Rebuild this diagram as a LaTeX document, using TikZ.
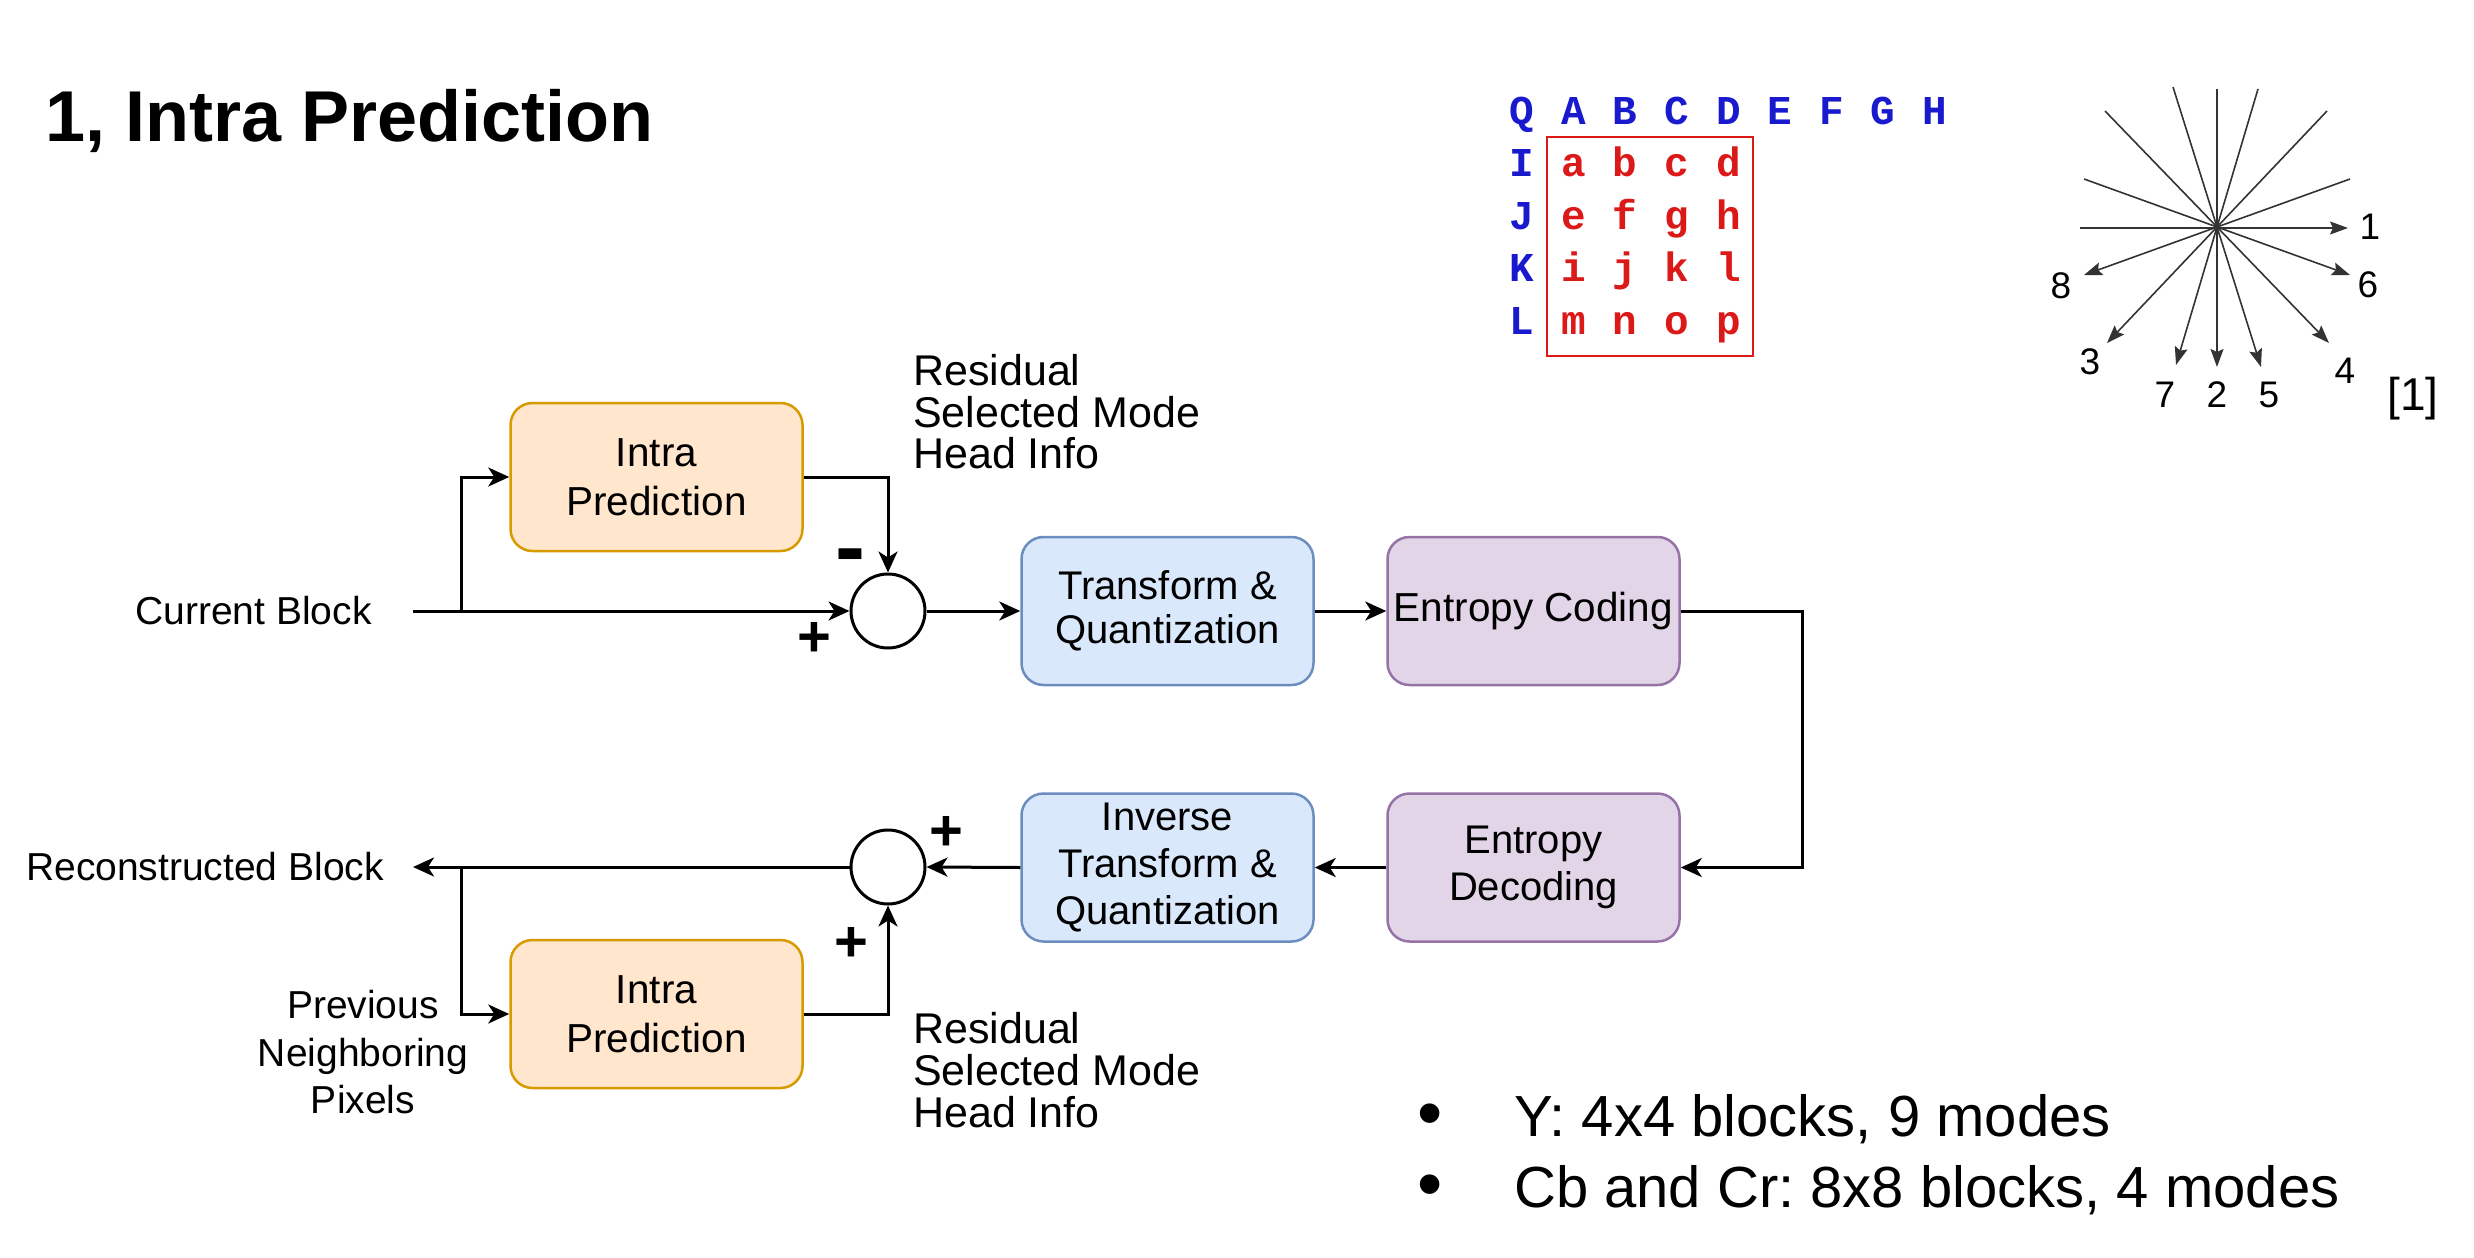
\documentclass[tikz,border=0pt]{standalone}
\usepackage{fontspec}
\setmainfont{Liberation Sans}
\newfontfamily\gridfont{Liberation Mono}
\usetikzlibrary{arrows.meta}
\definecolor{orfill}{HTML}{FFE6CC}\definecolor{ordraw}{HTML}{D79B00}
\definecolor{blfill}{HTML}{DAE8FC}\definecolor{bldraw}{HTML}{6C8EBF}
\definecolor{pufill}{HTML}{E1D5E7}\definecolor{pudraw}{HTML}{9673A6}
\definecolor{gblue}{RGB}{25,25,205}\definecolor{gred}{RGB}{220,25,25}
\newcommand\fsz[2]{\fontsize{#1}{#2}\selectfont}
\frenchspacing
\begin{document}
\begin{tikzpicture}[x=1pt,y=-1pt,
  box/.style={rounded corners=22pt, line width=2.5pt, minimum width=292pt, minimum height=148pt, inner sep=0pt, align=center},
  obox/.style={box, fill=orfill, draw=ordraw, font=\fsz{40.5}{49}},
  bbox/.style={box, fill=blfill, draw=bldraw},
  pbox/.style={box, fill=pufill, draw=pudraw},
  sumc/.style={circle, draw, line width=3pt, fill=white, minimum size=74pt, inner sep=0pt},
  flow/.style={line width=3pt, -{Stealth[length=21pt,width=19pt,inset=6pt]}},
  lbl/.style={inner sep=0pt, anchor=base, font=\fsz{39}{47}},
  rlbl/.style={inner sep=0pt, anchor=base west, font=\fsz{43}{43}},
  sign/.style={inner sep=0pt, font=\fsz{58}{58}\bfseries},
  gl/.style={inner sep=0pt, anchor=base, font=\gridfont\bfseries\fsz{41}{41}},
  sarr/.style={line width=1.6pt, draw=black!80, -{Stealth[length=18pt,width=13pt,inset=3pt]}},
  snum/.style={inner sep=0pt, font=\fsz{37}{37}},
  blt/.style={inner sep=0pt, anchor=base west, font=\fsz{58}{58}}
]
\useasboundingbox (0,0) rectangle (2474,1258);

% title
\node[inner sep=0pt, anchor=base west, font=\fsz{72}{72}\bfseries] (title) at (45,141) {1, Intra Prediction};

% boxes
\node[obox] (ip1) at (656.5,477) {Intra\\Prediction};
\node[obox] (ip2) at (656.5,1014) {Intra\\Prediction};
\node[bbox, font=\fsz{40}{44.5}] (tq) at (1167.5,611) {Transform \&\\Quantization};
\node[pbox, font=\fsz{40.5}{45}] (ec) at (1533.5,611) {Entropy Coding};
\node[bbox, font=\fsz{40}{47}] (itq) at (1167.5,867.5) {Inverse\\Transform \&\\Quantization};
\node[pbox, font=\fsz{40}{47}] (ed) at (1533.5,867.5) {Entropy\\Decoding};
\node[sumc] (s1) at (888,611) {};
\node[sumc] (s2) at (888,867) {};

% free labels
\node[lbl] (cb) at (253.5,624) {Current Block};
\node[lbl] (rb) at (205,880) {Reconstructed Block};
\node[lbl] (pn1) at (363,1018) {Previous};
\node[lbl] (pn2) at (363,1066) {Neighboring};
\node[lbl] (pn3) at (363,1113) {Pixels};
\node[rlbl] (r1) at (913,385) {Residual};
\node[rlbl] (r2) at (913,427) {Selected Mode};
\node[rlbl] (r3) at (913,468) {Head Info};
\node[rlbl] (r4) at (913,1043) {Residual};
\node[rlbl] (r5) at (913,1085) {Selected Mode};
\node[rlbl] (r6) at (913,1127) {Head Info};

% signs
\node[inner sep=0pt, anchor=base, font=\fsz{90}{90}\bfseries] (minus) at (850,577) {-};
\node[sign] (p1) at (814,639) {+};
\node[sign] (p2) at (946,833) {+};
\node[sign] (p3) at (851,944) {+};

% connectors
\coordinate (in1) at (413,611);
\coordinate (j1) at (461,611);
\coordinate (out2) at (413,867);
\coordinate (j2) at (461,867);
\coordinate (rt) at (1802,611);
\draw[flow] (in1) -- (s1.west);
\draw[flow] (j1) |- (ip1.west);
\draw[flow] (ip1.east) -| (s1.north);
\draw[flow] (s1.east) -- (tq.west);
\draw[flow] (tq.east) -- (ec.west);
\draw[flow] (ec.east) -- (rt) |- (ed.east);
\draw[flow] (ed.west) -- (itq.east);
\draw[flow] (itq.west) -- (s2.east);
\draw[flow] (s2.west) -- (out2);
\draw[flow] (j2) |- (ip2.west);
\draw[flow] (ip2.east) -| (s2.south);

% grid of pixels
\draw[gred, line width=2pt] (1547,137) rectangle (1753,356);
\foreach \l [count=\ci from 0] in {Q,A,B,C,D,E,F,G,H}
  \node[gl, text=gblue] (top\ci) at ({1522+51.6*\ci},124) {\l};
\foreach \l [count=\rj] in {I,J,K,L}
  \node[gl, text=gblue] (side\rj) at (1522,{124+52.5*\rj}) {\l};
\foreach \rw [count=\rj] in {{a,b,c,d},{e,f,g,h},{i,j,k,l},{m,n,o,p}}
  \foreach \l [count=\ci] in \rw
    \node[gl, text=gred] (px\rj\ci) at ({1522+51.6*\ci},{124+52.5*\rj}) {\l};

% direction star
\draw[sarr] (2080,228) -- (2348,228);
\draw[sarr] (2350,179) -- (2084,275);
\draw[sarr] (2084,179) -- (2350,275);
\draw[sarr] (2327,111) -- (2107,343);
\draw[sarr] (2105,111) -- (2329,343);
\draw[sarr] (2258,89) -- (2176,365);
\draw[sarr] (2173,87) -- (2261,367);
\draw[sarr] (2217,89) -- (2217,367);
\node[snum] (d1) at (2370,227) {1};
\node[snum] (d8) at (2061,286) {8};
\node[snum] (d6) at (2368,285) {6};
\node[snum] (d3) at (2090,362) {3};
\node[snum] (d7) at (2165,395) {7};
\node[snum] (d2) at (2217,395) {2};
\node[snum] (d5) at (2269,395) {5};
\node[snum] (d4) at (2345,371) {4};
\node[inner sep=0pt, font=\fsz{46}{46}] (ref) at (2413,399) {[1]};

% bullets
\node[inner sep=0pt, font=\fsz{72}{72}] (b1) at (1430,1121) {•};
\node[inner sep=0pt, font=\fsz{72}{72}] (b2) at (1430,1192) {•};
\node[blt] (t1) at (1514,1136) {Y: 4x4 blocks, 9 modes};
\node[blt] (t2) at (1514,1207) {Cb and Cr: 8x8 blocks, 4 modes};
\end{tikzpicture}
\end{document}
